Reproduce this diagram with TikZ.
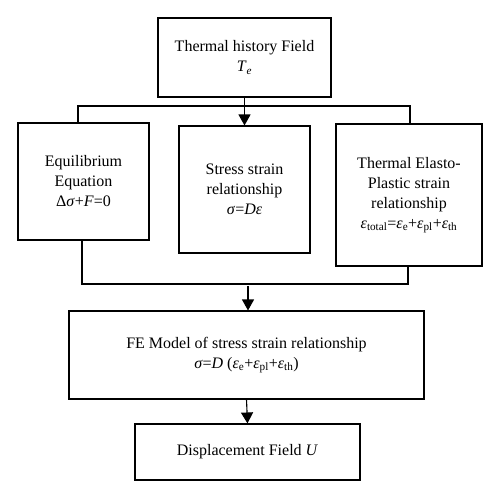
\documentclass[tikz,border=0pt]{standalone}
\usepackage{fontspec}
\setmainfont{Liberation Serif}
\usetikzlibrary{arrows.meta}
\begin{document}
\begin{tikzpicture}[x=1pt,y=-1pt,
  box/.style={draw, line width=1.1pt, align=center, inner sep=0pt,
    font=\fontsize{16}{20}\selectfont},
  arr/.style={line width=1.1pt, -{Triangle[length=11pt,width=12pt]}},
  ln/.style={line width=1.1pt}]
\useasboundingbox (0,0) rectangle (500,498);
\node[box, minimum width=173pt, minimum height=79pt] (top) at (244.5,57.5)
  {Thermal history Field\\\textit{T}\textsubscript{\textit{e}}};
\node[box, minimum width=131pt, minimum height=117pt] (left) at (83.5,181.5)
  {Equilibrium\\Equation\\Δ\textit{σ}+\textit{F}=0};
\node[box, minimum width=131pt, minimum height=127pt] (mid) at (244.5,189.5)
  {Stress strain\\relationship\\\textit{σ}=\textit{Dε}};
\node[box, minimum width=146pt, minimum height=142pt] (right) at (409,195)
  {Thermal Elasto-\\Plastic strain\\relationship\\\textit{ε}\textsubscript{total}=\textit{ε}\textsubscript{e}+\textit{ε}\textsubscript{pl}+\textit{ε}\textsubscript{th}};
\node[box, minimum width=355pt, minimum height=88pt] (fe) at (246.5,355)
  {FE Model of stress strain relationship\\\textit{σ}=\textit{D} (\textit{ε}\textsubscript{e}+\textit{ε}\textsubscript{pl}+\textit{ε}\textsubscript{th})};
\node[box, minimum width=225pt, minimum height=56pt] (disp) at (247.5,452)
  {Displacement Field \textit{U}};
% top distribution
\coordinate (jl) at (78,106);
\coordinate (jr) at (410,106);
\draw[ln] (jl |- left.north) -- (jl) -- (jr) -- (jr |- right.north);
\draw[arr] (top.south) -- (mid.north);
% bottom collection
\coordinate (bl) at (82,284);
\coordinate (br) at (408,284);
\coordinate (fs) at (248,286);
\draw[ln] (bl |- left.south) -- (bl) -- (br) -- (br |- right.south);
\draw[arr] (fs) -- (fs |- fe.north);
\draw[arr] (fe.south) -- (disp.north);
\end{tikzpicture}
\end{document}
